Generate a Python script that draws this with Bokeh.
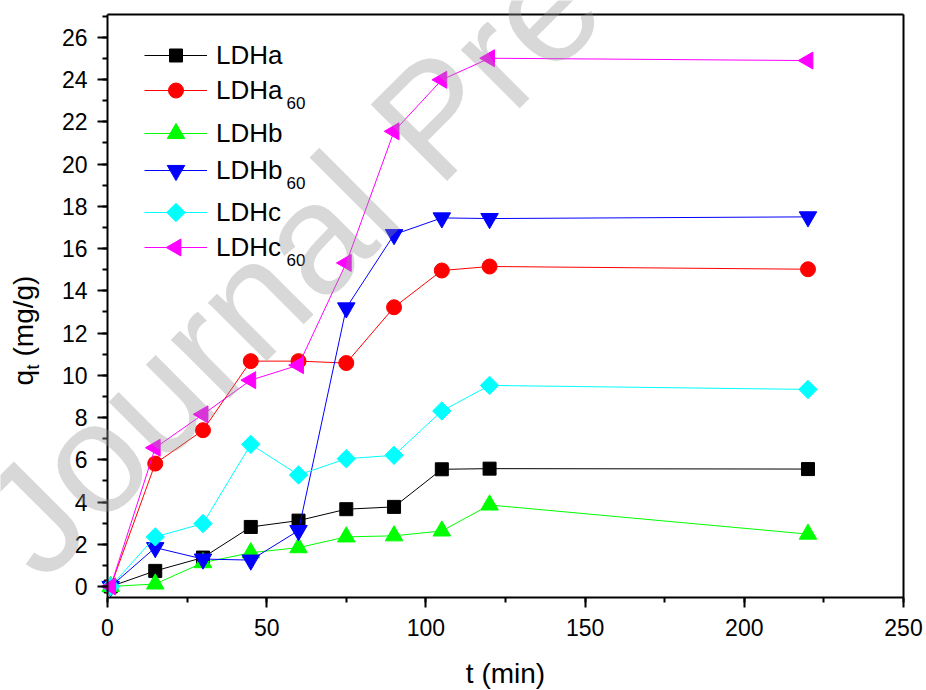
import math
from bokeh.plotting import figure
from bokeh.models import (Range1d, SingleIntervalTicker, LinearAxis, Legend, LegendItem,
                          Label, ColumnDataSource)
from bokeh.embed import file_html
from bokeh.resources import INLINE

# ---- data ----
t_min = [1, 15, 30, 45, 60, 75, 90, 105, 120, 220]
ldha = [0, 0.74, 1.37, 2.82, 3.12, 3.66, 3.77, 5.55, 5.58, 5.56]
ldha60 = [0, 5.82, 7.40, 10.67, 10.67, 10.58, 13.22, 14.96, 15.15, 15.02]
ldhb = [0, 0.12, 1.13, 1.60, 1.84, 2.35, 2.40, 2.63, 3.86, 2.48]
ldhb60 = [0, 1.84, 1.30, 1.25, 2.65, 13.19, 16.66, 17.45, 17.42, 17.50]
ldhc = [0, 2.35, 2.98, 6.73, 5.28, 6.05, 6.21, 8.31, 9.52, 9.33]
ldhc60 = [0, 6.57, 8.15, 9.77, 10.48, 15.32, 21.55, 23.99, 25.01, 24.90]

series_names = ["LDHa", "LDHa", "LDHb", "LDHb", "LDHc", "LDHc"]
series_subs = ["", "60", "", "60", "", "60"]
series_values = [ldha, ldha60, ldhb, ldhb60, ldhc, ldhc60]

x_bounds = (0, 250)
y_bounds = (-0.52, 27.08)
x_tick_interval = 50
y_tick_interval = 2

# ---- styles / layout ----
colors = ["#000000", "#ff0000", "#00ff00", "#0000ff", "#00ffff", "#ff00ff"]
markers = ["square", "circle", "triangle", "inverted_triangle", "square", "triangle"]
angles = [0, 0, 0, 0, math.pi / 4, math.pi / 2]
sizes = [13, 15, 17.5, 17.5, 13, 17]
legend_rows = [55, 90, 133, 170, 212, 247]   # pixel centres of the legend rows
legend_glyph_x = 144
legend_glyph_w = 63

FONT = "Liberation Sans"
W, H = 926, 690
XR = (-33.6, 257.22)
YR = (-4.923, 27.743)
SHIFT = 0.37   # svg text: alphabetic baseline lands this many ems low


def px_to_x(px):
    return XR[0] + px * (XR[1] - XR[0]) / W


def px_to_y(py):
    return YR[1] - py * (YR[1] - YR[0]) / H


# the frame covers the whole canvas; the visible box is drawn by bounded axes
p = figure(width=W, height=H, output_backend="svg", toolbar_location=None,
           title=None, x_axis_location=None, y_axis_location=None,
           x_range=Range1d(*XR), y_range=Range1d(*YR),
           min_border=0, min_border_left=0, min_border_right=0,
           min_border_top=0, min_border_bottom=0)
p.xgrid.visible = False
p.ygrid.visible = False
p.outline_line_color = None
p.background_fill_color = "white"
p.border_fill_color = "white"


def style_axis(ax, ticks=True):
    ax.axis_line_width = 2
    ax.axis_line_color = "black"
    ax.major_tick_in = 0
    ax.minor_tick_in = 0
    if ticks:
        ax.major_tick_out = 10
        ax.minor_tick_out = 5
    else:
        ax.major_tick_out = 0
        ax.minor_tick_out = 0
        ax.major_label_text_alpha = 0
        ax.major_tick_line_color = None
        ax.minor_tick_line_color = None
    ax.major_tick_line_width = 2
    ax.minor_tick_line_width = 2
    ax.major_label_text_font = FONT
    ax.major_label_text_font_size = "23px"
    ax.major_label_text_color = "black"


xaxis = LinearAxis(fixed_location=y_bounds[0], bounds=x_bounds,
                   ticker=SingleIntervalTicker(interval=x_tick_interval, num_minor_ticks=2))
style_axis(xaxis)
xaxis.major_label_standoff = 12
p.add_layout(xaxis, "below")

yaxis = LinearAxis(fixed_location=x_bounds[0], bounds=y_bounds,
                   ticker=SingleIntervalTicker(interval=y_tick_interval, num_minor_ticks=2))
style_axis(yaxis)
yaxis.major_label_standoff = 10
p.add_layout(yaxis, "left")

topaxis = LinearAxis(fixed_location=y_bounds[1], bounds=x_bounds,
                     ticker=SingleIntervalTicker(interval=x_tick_interval))
style_axis(topaxis, ticks=False)
p.add_layout(topaxis, "above")

rightaxis = LinearAxis(fixed_location=x_bounds[1], bounds=y_bounds,
                       ticker=SingleIntervalTicker(interval=y_tick_interval))
style_axis(rightaxis, ticks=False)
p.add_layout(rightaxis, "right")

line_renderers = []
for name, vals, col, mk, ang, sz in zip(series_names, series_values, colors, markers, angles, sizes):
    lr = p.line(t_min, vals, line_color=col, line_width=1)
    p.scatter(t_min, vals, marker=mk, angle=ang, size=sz,
              fill_color=col, line_color=col, line_width=1)
    line_renderers.append(lr)

# legend: one legend per row (uneven spacing like the reference); line sample from Bokeh,
# symbol drawn on top with the same marker/angle as the series
for i, (lr, name, c, sub) in enumerate(zip(line_renderers, series_names, legend_rows, series_subs)):
    lg = Legend(items=[LegendItem(label=name, renderers=[lr])],
                location=(legend_glyph_x, H - (c + 19)), orientation="vertical",
                glyph_width=legend_glyph_w, glyph_height=38, label_height=38, spacing=0,
                padding=0, margin=0, label_standoff=9,
                label_text_font=FONT, label_text_font_size="26px",
                label_text_color="black",
                border_line_color=None, background_fill_alpha=0)
    p.add_layout(lg)
    if sub:
        p.add_layout(Label(x=286, y=H - (c + 19 - SHIFT * 17), x_units="screen", y_units="screen",
                           text=sub, text_font=FONT, text_font_size="17px",
                           text_color="black", text_baseline="alphabetic"))

legend_src = ColumnDataSource(dict(
    x=[px_to_x(legend_glyph_x + legend_glyph_w / 2)] * len(legend_rows),
    y=[px_to_y(c) for c in legend_rows],
    marker=markers, angle=angles, size=sizes, color=colors))
p.scatter("x", "y", source=legend_src, marker="marker", angle="angle", size="size",
          fill_color="color", line_color="color", line_width=1)

# y axis title: q_t (mg/g)   (rotated, reading upwards)
p.add_layout(Label(x=33 - SHIFT * 28, y=H - 385, x_units="screen", y_units="screen",
                   angle=math.pi / 2, text="q", text_font=FONT, text_font_size="28px",
                   text_color="black", text_baseline="alphabetic"))
p.add_layout(Label(x=39 - SHIFT * 18, y=H - 369, x_units="screen", y_units="screen",
                   angle=math.pi / 2, text="t", text_font=FONT, text_font_size="18px",
                   text_color="black", text_baseline="alphabetic"))
p.add_layout(Label(x=33 - SHIFT * 28, y=H - 356, x_units="screen", y_units="screen",
                   angle=math.pi / 2, text="(mg/g)", text_font=FONT, text_font_size="28px",
                   text_color="black", text_baseline="alphabetic"))

# x axis title
p.add_layout(Label(x=505, y=H - (683 - SHIFT * 28), x_units="screen", y_units="screen",
                   text="t (min)", text_font=FONT, text_font_size="28px", text_color="black",
                   text_align="center", text_baseline="alphabetic"))

# watermark
wm = SHIFT * 157 / math.sqrt(2)
p.add_layout(Label(x=45 - wm, y=H - (587 - wm), x_units="screen", y_units="screen",
                   angle=math.pi / 4, text="Journal Pre-proof", text_font=FONT,
                   text_font_size="157px", text_color="#939393", text_alpha=0.36,
                   text_baseline="alphabetic"))

open("out.html", "w").write(file_html(p, INLINE))
